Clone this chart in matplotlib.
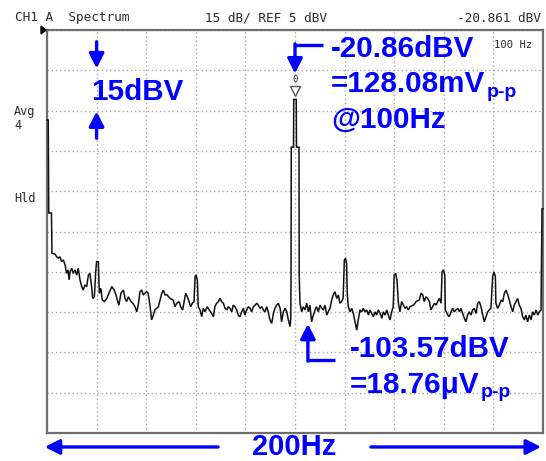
import matplotlib
matplotlib.use("Agg")
import matplotlib.pyplot as plt

W, H = 546, 461

# Averaged spectrum trace: frequency (Hz) and level (dBV)
trace_freq_hz = [
    0.0, 0.5, 0.7, 1.8, 2.0, 3.2, 3.9, 4.6, 5.2, 5.9,
    6.6, 7.3, 7.9, 8.5, 8.9, 9.3, 10.0, 10.6, 11.3, 12.0,
    12.6, 13.3, 14.0, 14.6, 15.3, 16.0, 16.7, 17.3, 18.0, 18.4,
    19.1, 19.6, 20.0, 20.7, 21.1, 21.7, 22.3, 23.1, 24.1, 24.7,
    26.1, 27.1, 27.8, 28.5, 29.0, 29.8, 30.8, 31.5, 32.1, 32.8,
    33.9, 34.6, 35.5, 36.2, 36.8, 37.5, 38.2, 38.8, 39.5, 40.2,
    40.8, 41.5, 42.2, 42.9, 43.5, 44.9, 46.3, 46.9, 47.6, 48.4,
    49.6, 50.9, 51.6, 52.3, 53.3, 53.9, 54.7, 55.4, 55.9, 56.6,
    57.3, 57.9, 58.6, 59.3, 59.7, 60.1, 60.6, 61.0, 61.7, 62.4,
    63.0, 63.7, 64.6, 65.4, 66.4, 67.1, 67.7, 68.4, 69.1, 69.8,
    70.4, 71.1, 71.8, 72.5, 73.1, 73.8, 74.5, 75.1, 75.8, 76.5,
    77.1, 77.8, 78.5, 79.2, 79.8, 80.5, 81.2, 81.9, 82.5, 83.2,
    83.9, 84.6, 85.2, 85.9, 86.6, 87.2, 87.9, 88.6, 89.2, 89.9,
    90.6, 91.3, 91.9, 92.6, 93.3, 94.0, 94.6, 95.3, 96.0, 96.7,
    97.3, 98.0, 98.3, 98.4, 98.5, 99.4, 99.5, 100.5, 100.6, 101.6,
    101.7, 102.0, 102.7, 103.3, 104.0, 104.7, 105.4, 106.0, 106.7, 107.4,
    108.1, 108.7, 109.4, 110.1, 110.8, 111.4, 112.1, 112.8, 113.4, 114.1,
    114.8, 115.4, 116.1, 116.8, 117.5, 118.1, 118.8, 119.4, 119.9, 120.4,
    120.8, 121.1, 121.5, 122.2, 122.9, 123.5, 124.2, 124.9, 125.5, 126.2,
    126.9, 127.5, 128.2, 128.9, 129.6, 130.2, 130.9, 131.6, 132.3, 132.9,
    133.6, 134.3, 135.0, 135.6, 136.3, 137.0, 137.6, 138.3, 139.0, 139.6,
    140.0, 140.6, 141.1, 141.7, 142.3, 143.0, 143.7, 144.4, 145.0, 145.7,
    146.4, 147.7, 148.4, 148.8, 150.1, 150.8, 151.5, 152.1, 152.8, 153.5,
    154.2, 154.8, 155.5, 156.2, 156.9, 157.5, 158.2, 158.9, 159.3, 159.8,
    160.4, 160.6, 161.6, 162.2, 162.9, 163.6, 164.2, 164.9, 165.6, 166.3,
    166.9, 167.6, 168.3, 168.9, 169.6, 170.3, 171.0, 171.6, 172.3, 173.0,
    173.7, 174.3, 175.0, 175.7, 176.3, 177.0, 177.7, 178.3, 179.0, 179.7,
    180.2, 180.8, 181.0, 181.7, 182.4, 183.1, 183.8, 184.4, 185.1, 185.8,
    186.4, 187.1, 187.8, 188.4, 189.1, 189.8, 190.4, 191.1, 191.8, 192.5,
    193.1, 193.8, 194.5, 195.2, 195.8, 196.5, 197.2, 197.9, 198.5, 199.2,
    199.6, 200.0,
]
trace_level_dbv = [
    -28.5, -28.5, -63.1, -63.1, -78.1, -78.4, -79.4, -79.9, -79.4, -81.2,
    -80.6, -82.5, -85.6, -84.3, -88.0, -85.0, -83.7, -85.6, -84.3, -86.2,
    -83.7, -88.0, -90.5, -91.8, -89.9, -90.5, -86.2, -85.6, -90.5, -94.9,
    -94.3, -85.6, -81.2, -81.2, -93.0, -91.1, -95.5, -96.1, -94.9, -93.6,
    -90.5, -91.8, -93.6, -96.1, -97.4, -93.0, -91.8, -94.9, -96.1, -94.3,
    -96.1, -96.7, -98.0, -99.9, -97.4, -92.4, -91.8, -93.6, -93.0, -92.4,
    -93.0, -97.4, -102.9, -101.1, -99.2, -98.0, -93.0, -91.8, -93.6, -93.6,
    -94.9, -95.5, -98.0, -96.7, -96.1, -98.0, -99.2, -95.5, -93.0, -94.3,
    -96.1, -98.0, -96.7, -96.1, -86.8, -86.2, -88.0, -98.0, -99.2, -101.7,
    -98.6, -99.9, -98.0, -99.2, -100.5, -101.7, -98.0, -96.7, -96.1, -94.9,
    -96.1, -96.7, -98.6, -99.2, -98.0, -98.6, -99.9, -97.4, -98.0, -99.2,
    -101.1, -101.7, -99.9, -98.6, -101.1, -99.2, -98.0, -98.6, -99.9, -98.0,
    -97.4, -96.7, -97.4, -98.6, -98.0, -99.2, -99.9, -98.0, -99.9, -102.9,
    -104.2, -100.5, -98.6, -97.4, -96.7, -98.6, -103.6, -99.9, -98.6, -99.9,
    -102.9, -105.4, -102.3, -86.2, -38.6, -38.6, -20.86, -20.86, -38.6, -38.6,
    -86.2, -96.7, -99.9, -98.0, -99.2, -96.7, -99.9, -97.4, -103.6, -101.1,
    -99.2, -98.0, -99.9, -97.4, -98.6, -99.2, -97.4, -101.1, -99.9, -98.6,
    -95.5, -93.6, -92.4, -94.9, -93.6, -96.7, -96.1, -94.8, -80.6, -80.0,
    -81.8, -93.6, -98.0, -99.9, -98.6, -100.5, -103.6, -106.7, -102.9, -99.2,
    -99.9, -98.6, -99.9, -99.2, -101.1, -99.2, -100.5, -101.7, -99.9, -101.1,
    -99.2, -100.5, -102.3, -99.9, -101.1, -99.2, -101.1, -102.9, -99.9, -98.0,
    -86.2, -85.6, -88.0, -96.7, -99.9, -96.1, -97.4, -98.6, -98.0, -99.2,
    -98.0, -97.4, -96.7, -96.1, -95.5, -93.0, -93.6, -96.1, -94.3, -94.9,
    -96.1, -99.2, -98.0, -96.7, -97.4, -96.1, -94.9, -96.7, -85.0, -84.3,
    -86.2, -99.2, -101.1, -101.7, -99.9, -98.6, -99.9, -99.2, -98.6, -99.9,
    -98.6, -100.5, -102.3, -103.6, -101.1, -99.9, -101.1, -99.2, -98.6, -100.5,
    -96.7, -96.1, -98.0, -101.1, -103.6, -101.7, -99.9, -99.2, -98.6, -86.8,
    -85.0, -86.8, -96.7, -98.6, -97.4, -95.5, -96.1, -93.0, -91.8, -93.6,
    -95.5, -98.0, -99.9, -97.4, -96.1, -94.9, -97.4, -98.6, -101.7, -102.9,
    -101.1, -103.6, -101.1, -102.9, -99.9, -101.1, -99.2, -101.1, -99.9, -99.2,
    -61.6, -61.6,
]

# Display settings and readouts
span_hz = 200
ref_dbv = 5
div_db = 15
n_div = 10
peak_freq_hz = 100
peak_level_dbv = -20.86
peak_vpp_mv = 128.08
marker_readout_dbv = -20.861
floor_level_dbv = -103.57
floor_vpp_uv = 18.76

x_grid_hz = list(range(0, span_hz + 1, span_hz // n_div))
y_grid_dbv = [ref_dbv - div_db * k for k in range(n_div + 1)]

BLUE = "#0000ff"
INK = "#2a2a2a"
BOLD = dict(family="Liberation Sans", weight="bold", color=BLUE)
MONO = dict(family="DejaVu Sans Mono", color=INK)
BIG = 21.3

fig = plt.figure(figsize=(W / 100, H / 100), dpi=100)
fig.patch.set_facecolor("white")
L, R, T, B = 47, 543, 30, 433
ax = fig.add_axes([L / W, 1 - B / H, (R - L) / W, (B - T) / H])
ax.set_xlim(0, span_hz)
ax.set_ylim(y_grid_dbv[-1], y_grid_dbv[0])
ax.set_xticks(x_grid_hz)
ax.set_yticks(y_grid_dbv)
ax.tick_params(length=0, labelbottom=False, labelleft=False)
ax.grid(True, color="#a6a6a6", linestyle=(0, (1, 2)), linewidth=1.0)
for s in ax.spines.values():
    s.set_color("#6e6e6e")
    s.set_linewidth(1.6)

# spectrum trace
ax.plot(trace_freq_hz, trace_level_dbv, color="#111111", lw=1.1,
        solid_joinstyle="miter", clip_on=False, zorder=3)

# peak marker
ax.plot([peak_freq_hz], [-17.6], marker="v", ms=7, mfc="white",
        mec="#555555", mew=1.0, zorder=4)
ax.text(peak_freq_hz, -13.3, "0", ha="center", va="center",
        fontsize=6.5, **MONO)


def px(x, y):
    return x / W, 1 - y / H


# header line and side labels
fig.text(*px(15, 18), "CH1 A  Spectrum", fontsize=9.2, va="center", **MONO)
fig.text(*px(205, 18), f"{div_db} dB/ REF {ref_dbv} dBV", fontsize=9.2,
         va="center", **MONO)
fig.text(*px(541, 18), f"{marker_readout_dbv:.3f} dBV", fontsize=9.2,
         va="center", ha="right", **MONO)
fig.text(*px(494, 45), f"{peak_freq_hz} Hz", fontsize=7.6, va="center", **MONO)
fig.text(*px(14, 112), "Avg", fontsize=8.6, va="center", **MONO)
fig.text(*px(14, 125), "4", fontsize=8.6, va="center", **MONO)
fig.text(*px(14, 199), "Hld", fontsize=8.6, va="center", **MONO)
fig.patches.append(plt.Polygon([px(41, 26), px(41, 34), px(46, 30)],
                               closed=True, color="black",
                               transform=fig.transFigure, figure=fig))

ARROW = dict(arrowstyle="-|>,head_length=0.55,head_width=0.28", color=BLUE,
             lw=2.4, shrinkA=0, shrinkB=0, mutation_scale=16)


def arrow(tip, tail):
    ax.annotate("", xy=tip, xytext=tail, arrowprops=ARROW,
                annotation_clip=False)


# one-division scale marker
arrow((20, -9.3), (20, 0.6))
arrow((20, -25.3), (20, -35.3))
ax.text(17.8, -21.0, f"{div_db}dBV", fontsize=BIG, va="baseline", **BOLD)

# peak annotation
ax.plot([111.3, peak_freq_hz], [-0.6, -0.6], color=BLUE, lw=2.4,
        solid_capstyle="butt", clip_on=False)
arrow((peak_freq_hz, -11.2), (peak_freq_hz, -0.6 + 0.45))

renderer = fig.canvas.get_renderer()


def with_sub(x, y, main, sub, size, subsize, drop):
    t = ax.text(x, y, main, fontsize=size, va="baseline", **BOLD)
    bb = t.get_window_extent(renderer=renderer)
    base = ax.transData.transform((x, y))[1]
    fig.text((bb.x1 + 1) / W, (base - drop) / H, sub, fontsize=subsize,
             va="baseline", **BOLD)


ax.text(114.5, -5.0, f"{peak_level_dbv:.2f}dBV", fontsize=BIG,
        va="baseline", **BOLD)
with_sub(114.5, -18.2, f"={peak_vpp_mv:.2f}mV", "p-p", BIG, 14, 5)
ax.text(114.5, -31.5, f"@{peak_freq_hz}Hz", fontsize=BIG, va="baseline",
        **BOLD)

# noise floor annotation
ax.plot([105.2, 116.1], [-117.8, -117.8], color=BLUE, lw=2.4,
        solid_capstyle="butt", clip_on=False)
arrow((105.2, floor_level_dbv - 0.8), (105.2, -117.8 - 0.45))
ax.text(122.2, -116.6, f"{floor_level_dbv:.2f}dBV", fontsize=BIG,
        va="baseline", **BOLD)
with_sub(122.2, -130.2, f"={floor_vpp_uv:.2f}\u03bcV", "p-p", BIG, 14, 4)

# span annotation below the frame
arrow((-0.9, -150.2), (69.0, -150.2))
arrow((199.2, -150.2), (130.6, -150.2))
ax.text(99.6, -153.3, f"{span_hz}Hz", fontsize=21, ha="center",
        va="baseline", **BOLD)

fig.savefig("out.png", dpi=100, facecolor="white")
